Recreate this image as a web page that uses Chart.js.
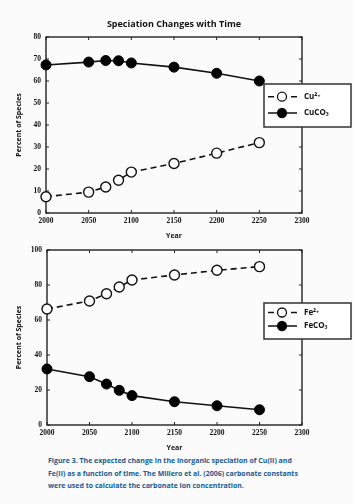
<!DOCTYPE html>
<html>
<head>
<meta charset="utf-8">
<script src="https://cdn.jsdelivr.net/npm/chart.js@4"></script>
<style>
  body { margin: 0; background: #fbfbfb; width: 354px; height: 504px; position: relative; overflow: hidden; }
  #topChart { position: absolute; left: 0; top: 0; }
  #bottomChart { position: absolute; left: 0; top: 240px; }
  .caption {
    position: absolute; left: 48px; top: 455px;
    font: bold 7px 'Open Sans', sans-serif; color: #175a8e;
    line-height: 12.5px; white-space: nowrap;
  }
</style>
</head>
<body>
<canvas id="topChart" width="354" height="240"></canvas>
<canvas id="bottomChart" width="354" height="215"></canvas>
<div class="caption">Figure 3. The expected change in the inorganic speciation of Cu(II) and<br>Fe(II) as a function of time. The Millero et al. (2006) carbonate constants<br>were used to calculate the carbonate ion concentration.</div>
<script>
// Data
const years = [2000, 2050, 2070, 2085, 2100, 2150, 2200, 2250];
const cuFree = [7.4, 9.5, 11.8, 14.9, 18.6, 22.5, 27.2, 32];
const cuCO3 = [67.3, 68.6, 69.3, 69.2, 68.2, 66.3, 63.5, 60];
const feFree = [66.3, 70.9, 75, 78.9, 82.9, 85.7, 88.4, 90.5];
const feCO3 = [32, 27.6, 23.4, 19.8, 16.8, 13.3, 11, 8.7];
const yearTicks = [2000, 2050, 2100, 2150, 2200, 2250, 2300];
const cuTicks = [0, 10, 20, 30, 40, 50, 60, 70, 80];
const feTicks = [0, 20, 40, 60, 80, 100];

const tickFont = { family: "'Liberation Serif', serif", size: 7.5, weight: 'bold' };
const titleFont = { family: "'Open Sans', sans-serif", size: 7, weight: 'bold' };

const toPoints = vals => vals.map((v, i) => ({ x: years[i], y: v }));

const openSeries = (label, vals) => ({
  label, data: toPoints(vals),
  borderColor: '#111', borderWidth: 1.6, borderDash: [6, 4],
  pointRadius: 5, pointBorderWidth: 1.4,
  pointBackgroundColor: '#fff', pointBorderColor: '#111',
  clip: false
});
const filledSeries = (label, vals) => ({
  label, data: toPoints(vals),
  borderColor: '#111', borderWidth: 1.6,
  pointRadius: 5, pointBorderWidth: 1,
  pointBackgroundColor: '#000', pointBorderColor: '#000',
  clip: false
});

// frame with inward ticks on all four sides, title over the plot, boxed legend
const framePlugin = {
  id: 'frame',
  beforeDatasetsDraw(chart, args, opts) {
    const { ctx, chartArea: a, scales: { x, y } } = chart;
    ctx.save();
    if (opts.title) {
      ctx.fillStyle = '#111';
      ctx.font = "bold 9px 'Open Sans', sans-serif";
      ctx.textAlign = 'center';
      ctx.textBaseline = 'middle';
      ctx.fillText(opts.title, (a.left + a.right) / 2, 24);
    }
    ctx.strokeStyle = '#222';
    ctx.lineWidth = 1.4;
    ctx.strokeRect(a.left, a.top, a.right - a.left, a.bottom - a.top);
    ctx.lineWidth = 1;
    ctx.beginPath();
    x.ticks.forEach(t => {
      const px = x.getPixelForValue(t.value);
      ctx.moveTo(px, a.bottom); ctx.lineTo(px, a.bottom - 3);
      ctx.moveTo(px, a.top); ctx.lineTo(px, a.top + 3);
    });
    y.ticks.forEach(t => {
      const py = y.getPixelForValue(t.value);
      ctx.moveTo(a.left, py); ctx.lineTo(a.left + 3, py);
      ctx.moveTo(a.right, py); ctx.lineTo(a.right - 3, py);
    });
    ctx.stroke();
    ctx.restore();
  },
  afterDraw(chart, args, opts) {
    if (!opts.box) return;
    const { ctx } = chart;
    const b = opts.box;
    ctx.save();
    ctx.fillStyle = '#fff';
    ctx.fillRect(b.x, b.y, b.w, b.h);
    ctx.strokeStyle = '#333';
    ctx.lineWidth = 1.5;
    ctx.strokeRect(b.x, b.y, b.w, b.h);
    chart.data.datasets.forEach((ds, i) => {
      const cy = b.y + b.rows[i];
      const x0 = b.x + 4, x1 = b.x + 33, cx = b.x + 18;
      ctx.strokeStyle = '#111';
      ctx.lineWidth = 1.5;
      ctx.beginPath();
      if (ds.borderDash) {
        ctx.moveTo(x0, cy); ctx.lineTo(x0 + 6, cy);
        ctx.moveTo(x1 - 6, cy); ctx.lineTo(x1, cy);
      } else {
        ctx.moveTo(x0, cy); ctx.lineTo(x1, cy);
      }
      ctx.stroke();
      ctx.beginPath();
      ctx.arc(cx, cy, 4.5, 0, Math.PI * 2);
      ctx.fillStyle = ds.pointBackgroundColor;
      ctx.fill();
      ctx.lineWidth = 1.3;
      ctx.stroke();
      ctx.fillStyle = '#111';
      ctx.font = "bold 8px 'Open Sans', sans-serif";
      ctx.textBaseline = 'middle';
      ctx.fillText(ds.label, b.x + 40, cy);
    });
    ctx.restore();
  }
};

function makeOptions(cfg) {
  return {
    responsive: false,
    devicePixelRatio: 1,
    animation: false,
    layout: { padding: cfg.padding },
    plugins: {
      legend: { display: false },
      tooltip: { enabled: false },
      title: { display: false },
      frame: { box: cfg.box, title: cfg.title }
    },
    scales: {
      x: {
        type: 'linear', min: 2000, max: 2300,
        afterBuildTicks: s => { s.ticks = yearTicks.map(v => ({ value: v })); },
        afterFit: s => { s.height = 27; },
        grid: { display: false, drawTicks: false },
        border: { display: false },
        ticks: { color: '#111', font: tickFont, padding: 4, maxRotation: 0, callback: v => String(v) },
        title: { display: true, text: 'Year', color: '#111', font: titleFont, padding: { top: 2, bottom: 0 } }
      },
      y: {
        min: 0, max: cfg.ymax,
        afterBuildTicks: s => { s.ticks = cfg.yTicks.map(v => ({ value: v })); },
        afterFit: s => { s.width = cfg.yWidth; },
        grid: { display: false, drawTicks: false },
        border: { display: false },
        ticks: { color: '#111', font: tickFont, padding: 5 },
        title: { display: true, text: 'Percent of Species', color: '#111', font: titleFont, padding: { top: 15, bottom: 0 } }
      }
    }
  };
}

new Chart(document.getElementById('topChart'), {
  type: 'line',
  data: { datasets: [openSeries('Cu²⁺', cuFree), filledSeries('CuCO₃', cuCO3)] },
  options: makeOptions({
    title: 'Speciation Changes with Time',
    padding: { left: 0, right: 52, top: 37, bottom: 0 },
    ymax: 80, yTicks: cuTicks, yWidth: 46,
    box: { x: 264, y: 84, w: 87, h: 43, rows: [12.7, 29] }
  }),
  plugins: [framePlugin]
});

new Chart(document.getElementById('bottomChart'), {
  type: 'line',
  data: { datasets: [openSeries('Fe²⁺', feFree), filledSeries('FeCO₃', feCO3)] },
  options: makeOptions({
    padding: { left: 0, right: 52, top: 10, bottom: 3 },
    ymax: 100, yTicks: feTicks, yWidth: 47,
    box: { x: 264, y: 63, w: 87, h: 36, rows: [9.5, 23] }
  }),
  plugins: [framePlugin]
});
</script>
</body>
</html>
